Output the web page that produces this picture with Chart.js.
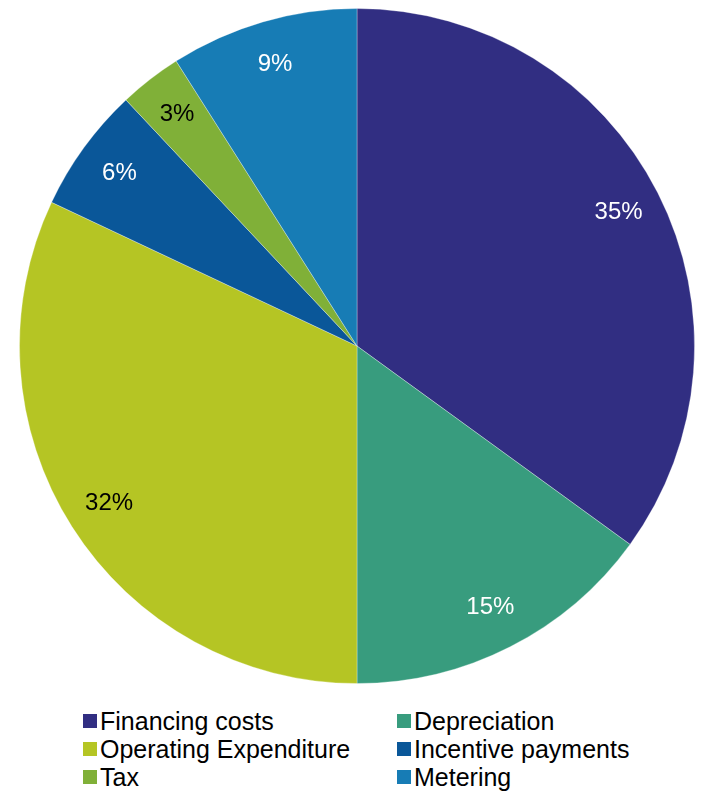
<!DOCTYPE html>
<html>
<head>
<meta charset="utf-8">
<script src="https://cdn.jsdelivr.net/npm/chart.js@4/dist/chart.umd.min.js"></script>
<style>
  html, body { margin: 0; padding: 0; background: #fff; }
  body { width: 705px; height: 792px; position: relative; overflow: hidden; font-family: "Liberation Sans", Arial, sans-serif; }
  #wrap { position: absolute; left: 0; top: 0; width: 705px; height: 700px; }
  #legend { position: absolute; left: 83px; top: 707px; display: grid; grid-template-columns: 314px 300px; row-gap: 0; }
  .item { display: flex; align-items: center; height: 28px; font-size: 25px; color: #000; white-space: nowrap; }
  .sw { width: 14px; height: 14px; margin-right: 3px; flex: none; }
</style>
</head>
<body>
<div id="wrap"><canvas id="c"></canvas></div>
<div id="legend"></div>
<script>
// Share of total revenue by building block (%)
const categories = ["Financing costs", "Depreciation", "Operating Expenditure", "Incentive payments", "Tax", "Metering"];
const shares = [35, 15, 32, 6, 3, 9];
const sliceColors = ["#312e82", "#389c7e", "#b5c524", "#0a5799", "#80b038", "#177cb5"];
const labelColors = ["#ffffff", "#ffffff", "#000000", "#ffffff", "#000000", "#ffffff"];

// Percentage labels placed inside each slice, near the rim
const sliceLabels = {
  id: "sliceLabels",
  afterDatasetsDraw(chart) {
    const ctx = chart.ctx;
    const meta = chart.getDatasetMeta(0);
    ctx.save();
    ctx.font = '24px "Liberation Sans", Arial, sans-serif';
    ctx.textAlign = "center";
    ctx.textBaseline = "middle";
    meta.data.forEach((arc, i) => {
      const p = arc.getProps(["x", "y", "startAngle", "endAngle", "outerRadius"], true);
      const mid = (p.startAngle + p.endAngle) / 2;
      const r = p.outerRadius * 0.87;
      ctx.fillStyle = labelColors[i];
      ctx.fillText(shares[i] + "%", p.x + Math.cos(mid) * r, p.y + Math.sin(mid) * r);
    });
    ctx.restore();
  }
};

new Chart(document.getElementById("c"), {
  type: "pie",
  data: {
    labels: categories,
    datasets: [{
      data: shares,
      backgroundColor: sliceColors,
      borderColor: "rgba(255,255,255,0.3)",
      borderWidth: 1
    }]
  },
  options: {
    responsive: true,
    maintainAspectRatio: false,
    animation: false,
    layout: { padding: { left: 19, right: 10, top: 8, bottom: 16 } },
    plugins: { legend: { display: false }, tooltip: { enabled: false } }
  },
  plugins: [sliceLabels]
});

// Two-column legend built from the same category and colour lists
const legend = document.getElementById("legend");
categories.forEach((name, i) => {
  const item = document.createElement("div");
  item.className = "item";
  const sw = document.createElement("span");
  sw.className = "sw";
  sw.style.background = sliceColors[i];
  const tx = document.createElement("span");
  tx.textContent = name;
  item.appendChild(sw);
  item.appendChild(tx);
  legend.appendChild(item);
});
</script>
</body>
</html>
